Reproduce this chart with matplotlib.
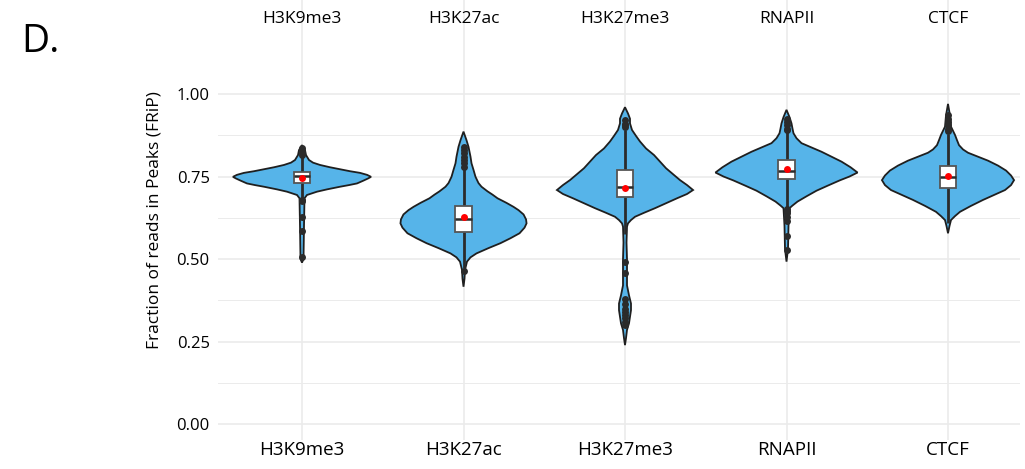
import matplotlib
matplotlib.use("Agg")
import matplotlib.pyplot as plt
import numpy as np

plt.rcParams['font.family'] = ['Open Sans', 'DejaVu Sans']

# ---------------- data ----------------
categories = ["H3K9me3", "H3K27ac", "H3K27me3", "RNAPII", "CTCF"]

# violin outlines: y level and relative density (half width)
h3k9me3_y = [0.845, 0.83, 0.815, 0.80, 0.792, 0.785, 0.778, 0.772, 0.766, 0.761, 0.755, 0.749,
             0.744, 0.737, 0.729, 0.724, 0.719, 0.711, 0.704, 0.694, 0.684, 0.60, 0.50, 0.489]
h3k9me3_d = [0, 3, 4, 7, 11, 18, 28, 38, 48, 58, 65, 69,
             66, 61, 55, 47, 38, 25, 15, 5, 2.5, 2, 1.5, 0]

h3k27ac_y = [0.886, 0.860, 0.840, 0.810, 0.790, 0.770, 0.749, 0.730, 0.719, 0.705, 0.695, 0.684,
             0.670, 0.658, 0.648, 0.635, 0.620, 0.608, 0.595, 0.578, 0.563, 0.548, 0.533, 0.517,
             0.505, 0.492, 0.467, 0.440, 0.416]
h3k27ac_d = [0, 3, 5, 7, 8, 10, 12, 15, 18, 24, 29, 34,
             43, 50, 55, 60, 62.5, 63, 61, 56, 47, 37, 25, 13,
             7, 3.5, 1.5, 1, 0]

h3k27me3_y = [0.960, 0.941, 0.925, 0.911, 0.891, 0.873, 0.856, 0.835, 0.815, 0.795, 0.775, 0.757,
              0.739, 0.724, 0.709, 0.697, 0.684, 0.669, 0.654, 0.640, 0.628, 0.618, 0.608, 0.598,
              0.55, 0.50, 0.46, 0.42, 0.39, 0.365, 0.345, 0.325, 0.305, 0.285, 0.26, 0.239]
h3k27me3_d = [0, 3, 5, 5, 7, 11, 15, 21, 29, 35, 41, 48,
              55, 62, 68, 62, 52, 41, 30, 19, 10, 6, 3, 2,
              1.5, 2, 2, 2, 4, 6, 6, 5, 4, 2, 1, 0]

rnapii_y = [0.952, 0.930, 0.911, 0.895, 0.881, 0.866, 0.851, 0.838, 0.825, 0.810, 0.795, 0.778,
            0.762, 0.750, 0.738, 0.722, 0.707, 0.690, 0.674, 0.662, 0.654, 0.60, 0.53, 0.492]
rnapii_d = [0, 3, 5, 6, 7, 10, 15, 25, 35, 45, 55, 64,
            71, 63, 53, 41, 30, 20, 11, 6, 3, 2, 1.5, 0]

ctcf_y = [0.970, 0.935, 0.901, 0.876, 0.860, 0.845, 0.832, 0.822, 0.810, 0.798, 0.783, 0.768,
          0.753, 0.739, 0.724, 0.709, 0.694, 0.679, 0.661, 0.643, 0.630, 0.618, 0.600, 0.578]
ctcf_d = [0, 2, 3, 7, 9, 11, 15, 20, 30, 40, 50, 58,
          63, 66, 63, 57, 46, 35, 23, 12, 7, 3, 1.5, 0]

violin_y = [h3k9me3_y, h3k27ac_y, h3k27me3_y, rnapii_y, ctcf_y]
violin_d = [h3k9me3_d, h3k27ac_d, h3k27me3_d, rnapii_d, ctcf_d]

# box plot statistics
q1 = [0.729, 0.583, 0.689, 0.742, 0.714]
median = [0.752, 0.620, 0.717, 0.768, 0.747]
q3 = [0.763, 0.661, 0.770, 0.800, 0.782]
mean = [0.746, 0.628, 0.716, 0.773, 0.752]
whisker_lo = [0.682, 0.472, 0.575, 0.658, 0.610]
whisker_hi = [0.812, 0.775, 0.890, 0.885, 0.880]
outliers = [
    [0.835, 0.828, 0.822, 0.816, 0.679, 0.676, 0.628, 0.585, 0.505],
    [0.84, 0.83, 0.82, 0.81, 0.80, 0.79, 0.78, 0.464],
    [0.92, 0.91, 0.905, 0.90, 0.492, 0.459, 0.38, 0.365, 0.35, 0.34, 0.33, 0.32, 0.31, 0.30],
    [0.925, 0.915, 0.905, 0.895, 0.89, 0.652, 0.645, 0.638, 0.628, 0.615, 0.571, 0.527],
    [0.935, 0.925, 0.915, 0.905, 0.895, 0.888],
]

yticks = [0.00, 0.25, 0.50, 0.75, 1.00]
yminor = [0.125, 0.375, 0.625, 0.875]
ylabel = "Fraction of reads in Peaks (FRiP)"
panel = "D."

# ---------------- style ----------------
W, H = 1025, 469
fig = plt.figure(figsize=(W / 100, H / 100), dpi=100)
ax_left, ax_right, ax_top, ax_bottom = 218, 1020, 0, 440
ax = fig.add_axes([ax_left / W, (H - ax_bottom) / H,
                   (ax_right - ax_left) / W, (ax_bottom - ax_top) / H])

violin_fill = "#56B4E9"
dark = "#2b2b2b"
grid_c = "#EBEBEB"
VIOLIN_HALF = 0.44
BOX_HALF = 0.05

dmax = max(max(d) for d in violin_d)
pos = np.arange(len(categories))

for i in range(len(categories)):
    y = np.array(violin_y[i])
    w = np.array(violin_d[i]) / dmax * VIOLIN_HALF
    xs = np.concatenate([pos[i] - w, (pos[i] + w)[::-1]])
    ys = np.concatenate([y, y[::-1]])
    ax.fill(xs, ys, facecolor=violin_fill, edgecolor="#1f1f1f", lw=1.3, zorder=2)
    # whiskers
    ax.plot([pos[i], pos[i]], [whisker_lo[i], q1[i]], color=dark, lw=2.0, zorder=3,
            solid_capstyle="butt")
    ax.plot([pos[i], pos[i]], [q3[i], whisker_hi[i]], color=dark, lw=2.0, zorder=3,
            solid_capstyle="butt")
    # outliers
    ax.plot([pos[i]] * len(outliers[i]), outliers[i], "o", color=dark, ms=5, mew=0, zorder=3)
    # box
    ax.add_patch(plt.Rectangle((pos[i] - BOX_HALF, q1[i]), 2 * BOX_HALF, q3[i] - q1[i],
                               facecolor="white", edgecolor="#555555", lw=1.3, zorder=4))
    ax.plot([pos[i] - BOX_HALF, pos[i] + BOX_HALF], [median[i], median[i]],
            color=dark, lw=1.8, zorder=5, solid_capstyle="butt")
    ax.plot([pos[i]], [mean[i]], "o", color="red", ms=5, mew=0, zorder=6)

# axes scales
px_per_cat = 161.5
x0_px = 302
ax.set_xlim((ax_left - x0_px) / px_per_cat, (ax_right - x0_px) / px_per_cat)
y1_px, y0_px = 94, 424
ppu = (y0_px - y1_px)
ax.set_ylim(-(ax_bottom - y0_px) / ppu, 1 + (y1_px - ax_top) / ppu)

ax.set_xticks(pos)
ax.set_xticklabels(categories, fontsize=13.5)
ax.set_yticks(yticks)
ax.set_yticklabels([f"{v:.2f}" for v in yticks], fontsize=12)
ax.set_yticks(yminor, minor=True)
ax.tick_params(axis="both", which="both", length=0)
ax.tick_params(axis="x", pad=1)
ax.tick_params(axis="y", pad=6)
for s in ax.spines.values():
    s.set_visible(False)
ax.grid(True, which="major", color=grid_c, lw=1.2)
ax.grid(True, which="minor", axis="y", color=grid_c, lw=0.7)
ax.set_axisbelow(True)

ax.set_ylabel(ylabel, fontsize=12.5, labelpad=10)

# top labels
for i, c in enumerate(categories):
    ax.text(pos[i], 1 - 19 / (ax_bottom - ax_top), c, transform=ax.get_xaxis_transform(),
            ha="center", va="center", fontsize=12.5)

fig.text(21 / W, 1 - 52 / H, panel, fontsize=28, ha="left", va="baseline")

fig.savefig("out.png", dpi=100)
